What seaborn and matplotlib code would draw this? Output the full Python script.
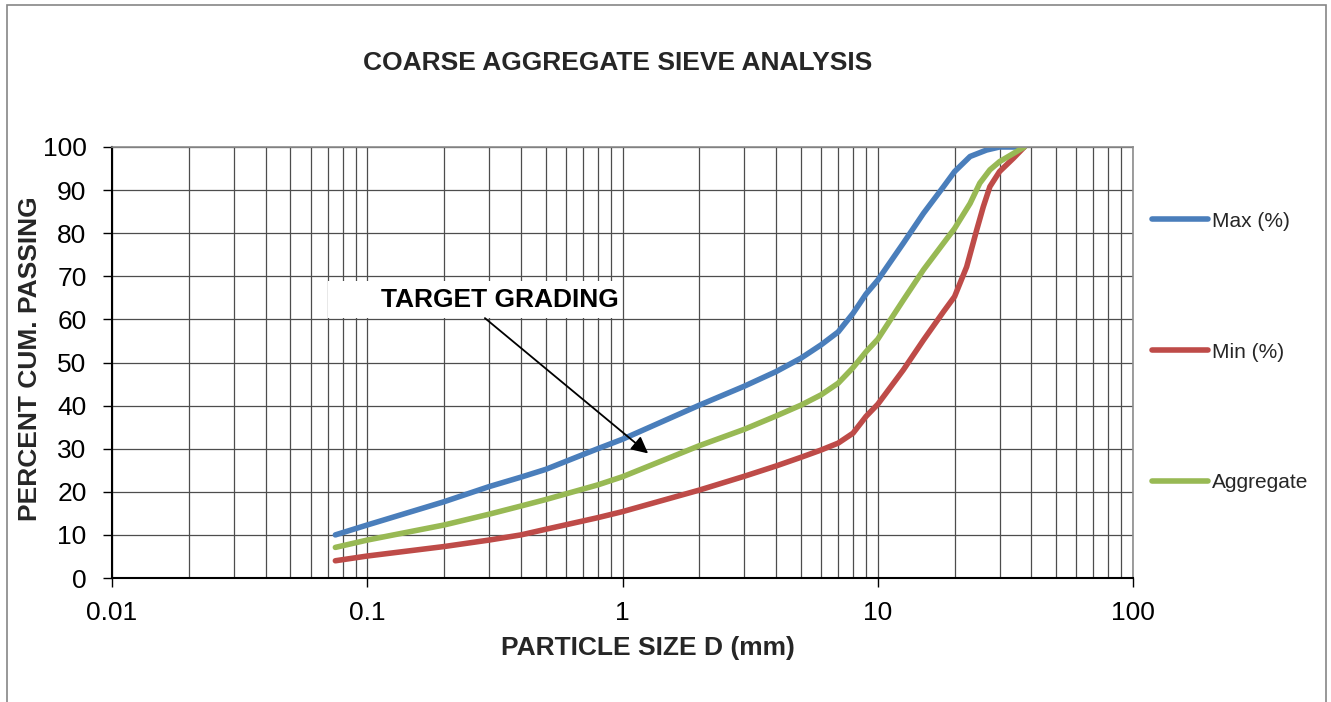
import numpy as np
import pandas as pd
import matplotlib
matplotlib.use("Agg")
import matplotlib.pyplot as plt
import seaborn as sns
from matplotlib.patches import Rectangle
from matplotlib.ticker import LogLocator, FixedLocator, NullFormatter

# ---- data ----
series_names = ["Max (%)", "Min (%)", "Aggregate"]
sizes_max = [0.075, 0.1, 0.2, 0.3, 0.4, 0.5, 0.8, 1.0, 2.0, 3.0, 4.0, 5.0, 6.0, 7.0, 8.0, 9.0,
             10.0, 12.6, 15.1, 18.1, 20.0, 23.0, 26.7, 30.0, 37.5]
pct_max = [10.0, 12.3, 17.7, 21.2, 23.4, 25.2, 30.0, 32.2, 40.1, 44.5, 47.9, 51.0, 54.1, 57.1, 61.4, 65.9,
           69.1, 77.7, 84.6, 90.8, 94.3, 97.8, 99.3, 100.0, 100.0]
sizes_min = [0.075, 0.1, 0.2, 0.3, 0.4, 0.5, 0.8, 1.0, 2.0, 3.0, 4.0, 5.0, 6.0, 7.0, 8.0, 9.0,
             10.0, 12.6, 15.1, 18.1, 20.0, 22.3, 24.4, 25.9, 27.5, 30.0, 34.0, 37.5]
pct_min = [4.0, 5.1, 7.3, 8.8, 10.0, 11.3, 14.0, 15.4, 20.4, 23.6, 26.0, 28.0, 29.7, 31.3, 33.6, 37.5,
           40.3, 48.3, 55.2, 61.8, 65.3, 72.2, 80.7, 86.1, 90.8, 94.3, 97.4, 100.0]
sizes_agg = [0.075, 0.1, 0.2, 0.3, 0.4, 0.5, 0.8, 1.0, 2.0, 3.0, 4.0, 5.0, 6.0, 7.0, 8.0, 9.0,
             10.0, 12.6, 15.1, 18.1, 20.0, 23.0, 25.1, 27.5, 30.0, 34.0, 37.5]
pct_agg = [7.1, 8.8, 12.3, 14.8, 16.7, 18.2, 21.6, 23.5, 30.7, 34.5, 37.6, 40.1, 42.5, 45.2, 48.8, 52.5,
           55.4, 64.5, 71.5, 77.7, 81.1, 86.9, 91.6, 94.7, 96.6, 98.5, 100.0]
y_ticks = [0, 10, 20, 30, 40, 50, 60, 70, 80, 90, 100]
x_ticks = [0.01, 0.1, 1, 10, 100]
x_tick_labels = ["0.01", "0.1", "1", "10", "100"]

df = pd.concat([
    pd.DataFrame({"size": sizes_max, "pct": pct_max, "series": series_names[0]}),
    pd.DataFrame({"size": sizes_min, "pct": pct_min, "series": series_names[1]}),
    pd.DataFrame({"size": sizes_agg, "pct": pct_agg, "series": series_names[2]}),
], ignore_index=True)

palette = {"Max (%)": "#4A7EBB", "Min (%)": "#BE4B48", "Aggregate": "#98B954"}

sns.set_theme(style="white")
plt.rcParams["font.family"] = ["Liberation Sans", "DejaVu Sans"]

fig = plt.figure(figsize=(13.31, 7.02), dpi=100)
ax = fig.add_axes([112 / 1331, 1 - 578 / 702, (1133 - 112) / 1331, (578 - 147) / 702])

sns.lineplot(data=df, x="size", y="pct", hue="series", palette=palette,
             sort=False, estimator=None, linewidth=4.0, ax=ax, legend=True,
             solid_capstyle="round", solid_joinstyle="round")

ax.set_xscale("log")
ax.set_xlim(0.01, 100)
ax.set_ylim(0, 100)
ax.xaxis.set_major_locator(FixedLocator(x_ticks))
ax.set_xticklabels(x_tick_labels)
ax.xaxis.set_minor_locator(LogLocator(base=10, subs=np.arange(2, 10)))
ax.xaxis.set_minor_formatter(NullFormatter())
ax.set_yticks(y_ticks)
ax.set_xlabel("")
ax.set_ylabel("")

ax.set_axisbelow(True)
ax.grid(which="major", axis="both", color="#4d4d4d", linewidth=0.9)
ax.grid(which="minor", axis="x", color="#4d4d4d", linewidth=0.9)

ax.tick_params(axis="both", which="major", labelsize=19, direction="out",
               length=6.3, width=1, color="black", labelcolor="black")
ax.tick_params(axis="x", which="major", bottom=True, pad=10)
ax.tick_params(axis="y", which="major", left=True, pad=12)
ax.tick_params(axis="x", which="minor", length=0)

for s in ["top", "right"]:
    ax.spines[s].set_color("#8c8c8c")
    ax.spines[s].set_linewidth(1.2)
for s in ["left", "bottom"]:
    ax.spines[s].set_color("black")
    ax.spines[s].set_linewidth(1.5)

# annotation "TARGET GRADING"
ax.add_patch(Rectangle((216 / 1021, (578 - 318) / 431), (621 - 328) / 1021, (318 - 281) / 431,
                       transform=ax.transAxes, facecolor="white", edgecolor="none", zorder=1.5))
ax.text(0.331, 64.5, "TARGET GRADING", fontsize=19, fontweight="bold",
        ha="center", va="center", zorder=3, color="black")
ax.annotate("", xy=(1.26, 28.9), xytext=(0.289, 60.3),
            arrowprops=dict(arrowstyle="-|>", color="black", lw=1.3,
                            mutation_scale=25, shrinkA=0, shrinkB=0), zorder=4)

# legend
handles, labels = ax.get_legend_handles_labels()
ax.legend(handles, labels, loc="center left",
          bbox_to_anchor=(1152 / 1331, 1 - 352 / 702), bbox_transform=fig.transFigure,
          frameon=False, fontsize=15, labelspacing=5.37, handlelength=2.7,
          handletextpad=0.2, borderpad=0, borderaxespad=0)

# titles and labels
fig.text(617.5 / 1331, 1 - 63 / 702, "COARSE AGGREGATE SIEVE ANALYSIS",
         fontsize=19, fontweight="bold", ha="center", va="center")
fig.text(648 / 1331, 1 - 648 / 702, "PARTICLE SIZE D (mm)",
         fontsize=19, fontweight="bold", ha="center", va="center")
fig.text(30 / 1331, 1 - 358.5 / 702, "PERCENT CUM. PASSING",
         fontsize=19, fontweight="bold", ha="center", va="center", rotation=90)

# outer chart border
fig.patches.append(Rectangle((7 / 1331, -0.05), (1326 - 7) / 1331, 1 - 5 / 702 + 0.05,
                             transform=fig.transFigure, facecolor="none",
                             edgecolor="#868686", linewidth=1.2, zorder=0))

fig.savefig("out.png", dpi=100)
